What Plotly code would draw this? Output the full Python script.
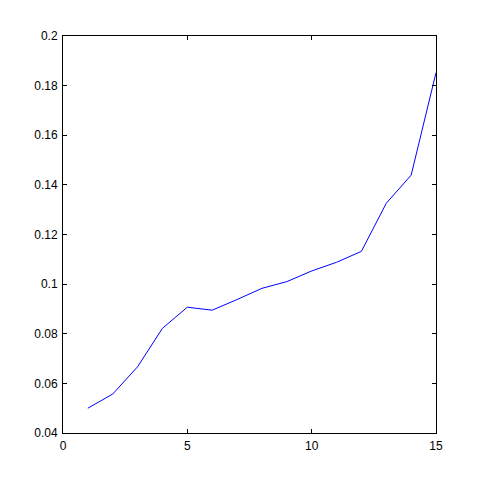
import plotly.graph_objects as go

x_vals = [1, 2, 3, 4, 5, 6, 7, 8, 9, 10, 11, 12, 13, 14, 15]
y_vals = [0.0500, 0.0557, 0.0667, 0.0822, 0.0907, 0.0895, 0.0938, 0.0983,
          0.1010, 0.1053, 0.1088, 0.1132, 0.1326, 0.1439, 0.1852]
x_ticks = [0, 5, 10, 15]
y_ticks = [0.04, 0.06, 0.08, 0.1, 0.12, 0.14, 0.16, 0.18, 0.2]
y_labels = ["0.04", "0.06", "0.08", "0.1", "0.12", "0.14", "0.16", "0.18", "0.2"]

fig = go.Figure()
fig.add_trace(go.Scatter(x=x_vals, y=y_vals, mode="lines",
                         line=dict(color="#0000ff", width=1), showlegend=False))

axis_common = dict(showline=True, linecolor="black", linewidth=1, mirror="ticks",
                   ticks="inside", ticklen=4, tickcolor="black", tickwidth=1,
                   showgrid=False, zeroline=False, ticklabelstandoff=2,
                   tickfont=dict(family="Liberation Sans, Arial, sans-serif", size=12, color="black"))

fig.update_xaxes(range=[0, 15], tickvals=x_ticks, ticktext=[str(t) for t in x_ticks], **axis_common)
fig.update_yaxes(range=[0.04, 0.2], tickvals=y_ticks, ticktext=y_labels, **axis_common)

fig.update_layout(width=474, height=478, paper_bgcolor="white", plot_bgcolor="white",
                  margin=dict(l=55, r=46, t=28, b=53))

fig.write_html("out.html")
